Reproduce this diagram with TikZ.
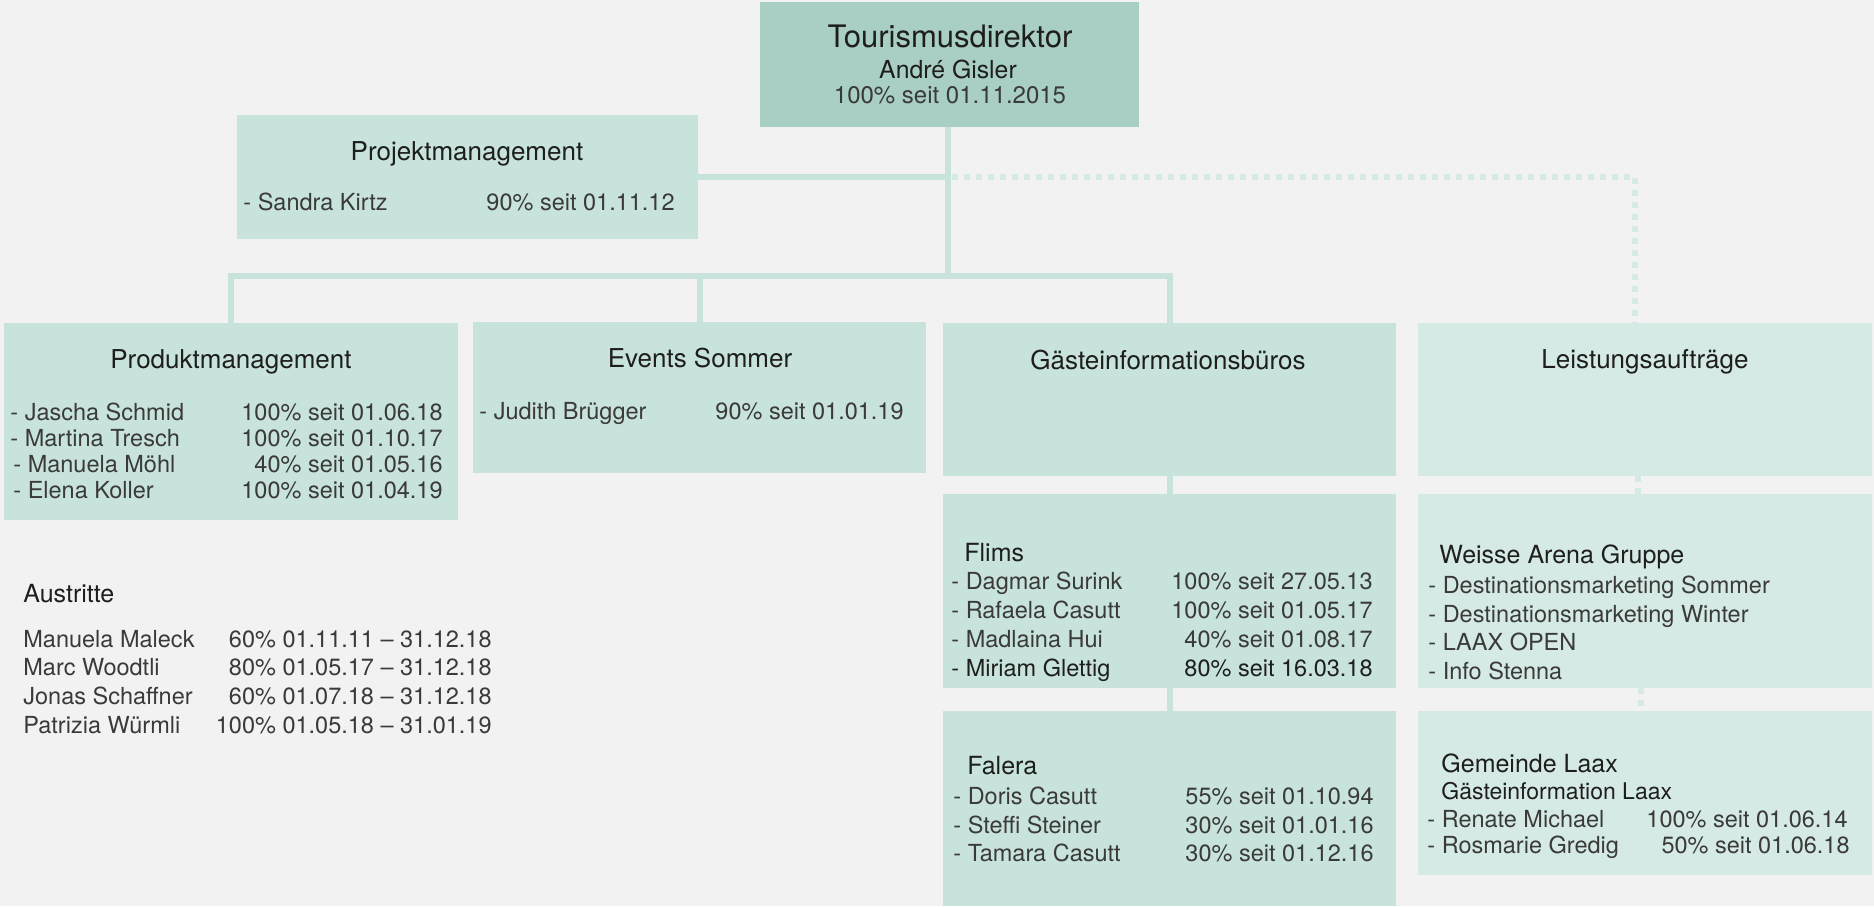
\documentclass[tikz,border=0pt]{standalone}
\usepackage{fontspec}
\setmainfont{TeX Gyre Heros}
\usetikzlibrary{fit,backgrounds}

\definecolor{bg}{HTML}{F2F2F2}
\definecolor{head}{HTML}{A9CFC4}
\definecolor{unit}{HTML}{C8E3DC}
\definecolor{ext}{HTML}{D5EAE5}
\definecolor{ink}{HTML}{1E1E1E}
\definecolor{soft}{HTML}{3A3A3A}

\tikzset{
  orgbox/.style={fill=unit, draw=none, inner sep=0pt},
  headbox/.style={fill=head, draw=none, inner sep=0pt},
  extbox/.style={fill=ext, draw=none, inner sep=0pt},
  conn/.style={draw=unit, line width=3pt, line cap=rect},
  dotline/.style={draw=ext, line width=2.8pt, dash pattern=on 2.8pt off 3.2pt},
  lbl/.style={inner sep=0pt, text=soft, font=\fontsize{11.75}{14}\selectfont},
  ttl/.style={inner sep=0pt, text=ink, font=\fontsize{13}{15}\selectfont},
  sub/.style={inner sep=0pt, text=ink, font=\fontsize{12.5}{15}\selectfont},
}

% one staff line: node name, left x, right x, baseline y, name, workload
\newcommand\staffline[6]{%
  \node[lbl, anchor=base west] (#1a) at (#2,#4) {#5};
  \node[lbl, anchor=base east] (#1b) at (#3,#4) {#6};}

\begin{document}
\begin{tikzpicture}[x=0.5pt, y=-0.5pt]
\useasboundingbox (0,0) rectangle (1874,906);

% boxes
\node[headbox, fit={(760,2)(1139,127)}] (dir) {};
\node[orgbox, fit={(237,115)(698,239)}] (proj) {};
\node[orgbox, fit={(4,323)(458,520)}] (prod) {};
\node[orgbox, fit={(473,322)(926,473)}] (evt) {};
\node[orgbox, fit={(943,323)(1396,476)}] (gib) {};
\node[extbox, fit={(1418,323)(1872,476)}] (lst) {};
\node[orgbox, fit={(943,494)(1396,688)}] (flims) {};
\node[orgbox, fit={(943,711)(1396,906)}] (falera) {};
\node[extbox, fit={(1418,494)(1872,688)}] (wag) {};
\node[extbox, fit={(1418,711)(1872,875)}] (laax) {};

% connectors, kept behind the boxes
\begin{scope}[on background layer]
  \fill[bg] (0,0) rectangle (1874,906);
  \coordinate (bar) at (948,276);
  \draw[conn] (dir.south -| bar) -- (bar);
  \draw[conn] (prod.north |- bar) -- (gib.north |- bar);
  \draw[conn] (proj.east) -- (proj.east -| bar);
  \draw[conn] (prod.north |- bar) -- (prod.north);
  \draw[conn] (evt.north |- bar) -- (evt.north);
  \draw[conn] (gib.north |- bar) -- (gib.north);
  \draw[conn] (gib.south) -- (flims.north);
  \draw[conn] (flims.south) -- (falera.north);
  \coordinate (lsttop) at ([xshift=-5pt]lst.north);
  \draw[dotline] ([xshift=2pt]proj.east -| bar) -- (proj.east -| lsttop) -- (lsttop);
  \draw[dotline] ([xshift=-3.5pt]lst.south) -- ([xshift=-3.5pt]wag.north);
  \draw[dotline] ([xshift=-2pt]wag.south) -- ([xshift=-2pt]laax.north);
\end{scope}

% director
\node[inner sep=0pt, text=ink, font=\fontsize{15.5}{18}\selectfont, anchor=base] (d1) at (950,47) {Tourismusdirektor};
\node[inner sep=0pt, text=ink, font=\fontsize{12.4}{14}\selectfont, anchor=base] (d2) at (948,78) {André Gisler};
\node[lbl, font=\fontsize{12}{14}\selectfont, anchor=base] (d3) at (950,103) {100\% seit 01.11.2015};

% Projektmanagement
\node[ttl, anchor=base] (projt) at (467,160) {Projektmanagement};
\staffline{pj1}{243}{675}{210}{- Sandra Kirtz}{90\% seit 01.11.12}

% Produktmanagement
\node[ttl, anchor=base] (prodt) at (231,368) {Produktmanagement};
\staffline{pm1}{10}{443}{420}{- Jascha Schmid}{100\% seit 01.06.18}
\staffline{pm2}{10}{443}{446}{- Martina Tresch}{100\% seit 01.10.17}
\staffline{pm3}{13}{443}{472}{- Manuela Möhl}{40\% seit 01.05.16}
\staffline{pm4}{13}{443}{498}{- Elena Koller}{100\% seit 01.04.19}

% Events Sommer
\node[ttl, anchor=base] (evtt) at (700,367) {Events Sommer};
\staffline{ev1}{479}{904}{419}{- Judith Brügger}{90\% seit 01.01.19}

% Gaesteinformationsbueros and Leistungsauftraege
\node[ttl, anchor=base] (gibt) at (1168,369) {Gästeinformationsbüros};
\node[ttl, anchor=base] (lstt) at (1645,368) {Leistungsaufträge};

% Flims
\node[sub, anchor=base west] (flt) at (964,561) {Flims};
\staffline{fl1}{951}{1373}{589}{- Dagmar Surink}{100\% seit 27.05.13}
\staffline{fl2}{951}{1373}{618}{- Rafaela Casutt}{100\% seit 01.05.17}
\staffline{fl3}{951}{1373}{647}{- Madlaina Hui}{40\% seit 01.08.17}
\staffline{fl4}{951}{1373}{676}{\textcolor{ink}{- Miriam Glettig}}{\textcolor{ink}{80\% seit 16.03.18}}

% Falera
\node[sub, anchor=base west] (fat) at (967,774) {Falera};
\staffline{fa1}{953}{1374}{804}{- Doris Casutt}{55\% seit 01.10.94}
\staffline{fa2}{953}{1374}{833}{- Steffi Steiner}{30\% seit 01.01.16}
\staffline{fa3}{953}{1374}{861}{- Tamara Casutt}{30\% seit 01.12.16}

% Weisse Arena Gruppe
\node[sub, anchor=base west] (wagt) at (1439,563) {Weisse Arena Gruppe};
\node[lbl, anchor=base west] (wa1) at (1428,593) {- Destinationsmarketing Sommer};
\node[lbl, anchor=base west] (wa2) at (1428,622) {- Destinationsmarketing Winter};
\node[lbl, anchor=base west] (wa3) at (1428,650) {- LAAX OPEN};
\node[lbl, anchor=base west] (wa4) at (1428,679) {- Info Stenna};

% Gemeinde Laax
\node[sub, anchor=base west] (lxt) at (1441,772) {Gemeinde Laax};
\node[sub, font=\fontsize{11.5}{14}\selectfont, anchor=base west] (lxs) at (1441,799) {Gästeinformation Laax};
\staffline{lx1}{1427}{1848}{827}{- Renate Michael}{100\% seit 01.06.14}
\staffline{lx2}{1427}{1850}{853}{- Rosmarie Gredig}{50\% seit 01.06.18}

% Austritte
\node[sub, anchor=base west] (aut) at (23,602) {Austritte};
\staffline{au1}{23}{492}{647}{Manuela Maleck}{60\% 01.11.11 – 31.12.18}
\staffline{au2}{23}{492}{675}{Marc Woodtli}{80\% 01.05.17 – 31.12.18}
\staffline{au3}{23}{492}{704}{Jonas Schaffner}{60\% 01.07.18 – 31.12.18}
\staffline{au4}{23}{492}{733}{Patrizia Würmli}{100\% 01.05.18 – 31.01.19}

\end{tikzpicture}
\end{document}
